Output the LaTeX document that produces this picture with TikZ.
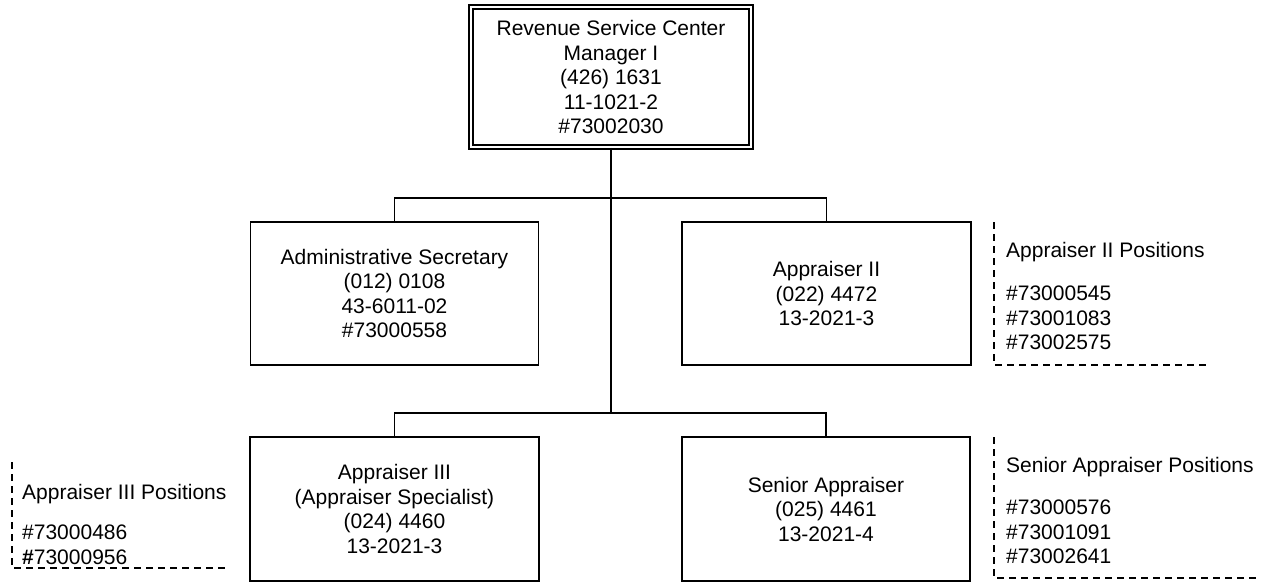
\documentclass[tikz,border=0pt]{standalone}
\usepackage{fontspec}
\setmainfont{Liberation Sans}
\begin{document}
\begin{tikzpicture}[x=1pt,y=-1pt,
  txt/.style={font=\fontsize{21}{24.5}\selectfont},
  posbox/.style={draw, line width=1.4pt, inner sep=0pt, align=center, txt},
  topbox/.style={draw, line width=1.5pt, double, double distance=2.5pt, inner sep=0pt, align=center, txt,
    minimum width=280pt, minimum height=140pt},
  wire/.style={line width=1.4pt},
  trunk/.style={line width=2pt},
  dashline/.style={line width=1.3pt, dash pattern=on 7pt off 5pt},
  note/.style={txt, anchor=base west, inner sep=0pt}]
\useasboundingbox (0,0) rectangle (1261,582);

% boxes
\node[topbox] (top) at (611,77) {Revenue Service Center\\Manager I\\(426) 1631\\11-1021-2\\\#73002030};
\node[posbox, minimum width=288pt, minimum height=143pt] (admin) at (394.5,293.5)
  {Administrative Secretary\\(012) 0108\\43-6011-02\\\#73000558};
\node[posbox, minimum width=289pt, minimum height=143pt] (app2) at (826.5,293.5)
  {Appraiser II\\(022) 4472\\13-2021-3};
\node[posbox, minimum width=289pt, minimum height=144pt] (app3) at (394.5,509)
  {Appraiser III\\(Appraiser Specialist)\\(024) 4460\\13-2021-3};
\node[posbox, minimum width=288pt, minimum height=144pt] (senior) at (826,509)
  {Senior Appraiser\\(025) 4461\\13-2021-4};

% connectors
\coordinate (bus1) at (top.south |- 0,198);
\coordinate (bus2) at (top.south |- 0,413);
\draw[trunk] (top.south) -- (bus2);
\draw[wire] (admin.north) |- (bus1) -| (app2.north);
\draw[wire] (app3.north) |- (bus2) -| (senior.north);

% position notes
\draw[dashline] (994,222) -- (994,365) -- (1210,365);
\node[note] (n2t) at (1006,257.5) {Appraiser II Positions};
\node[note] (n2a) at (1006,300.5) {\#73000545};
\node[note] (n2b) at (1006,325) {\#73001083};
\node[note] (n2c) at (1006,349.5) {\#73002575};

\draw[dashline] (994,437) -- (994,578) -- (1260,578);
\node[note] (nst) at (1006,472.5) {Senior Appraiser Positions};
\node[note] (nsa) at (1006,514.5) {\#73000576};
\node[note] (nsb) at (1006,539) {\#73001091};
\node[note] (nsc) at (1006,563.5) {\#73002641};

\draw[dashline] (12,462) -- (12,568) -- (228,568);
\node[note] (n3t) at (22,499.5) {Appraiser III Positions};
\node[note] (n3a) at (22,539.5) {\#73000486};
\node[note] (n3b) at (22,564) {\textbf{\#}73000956};
\end{tikzpicture}
\end{document}
